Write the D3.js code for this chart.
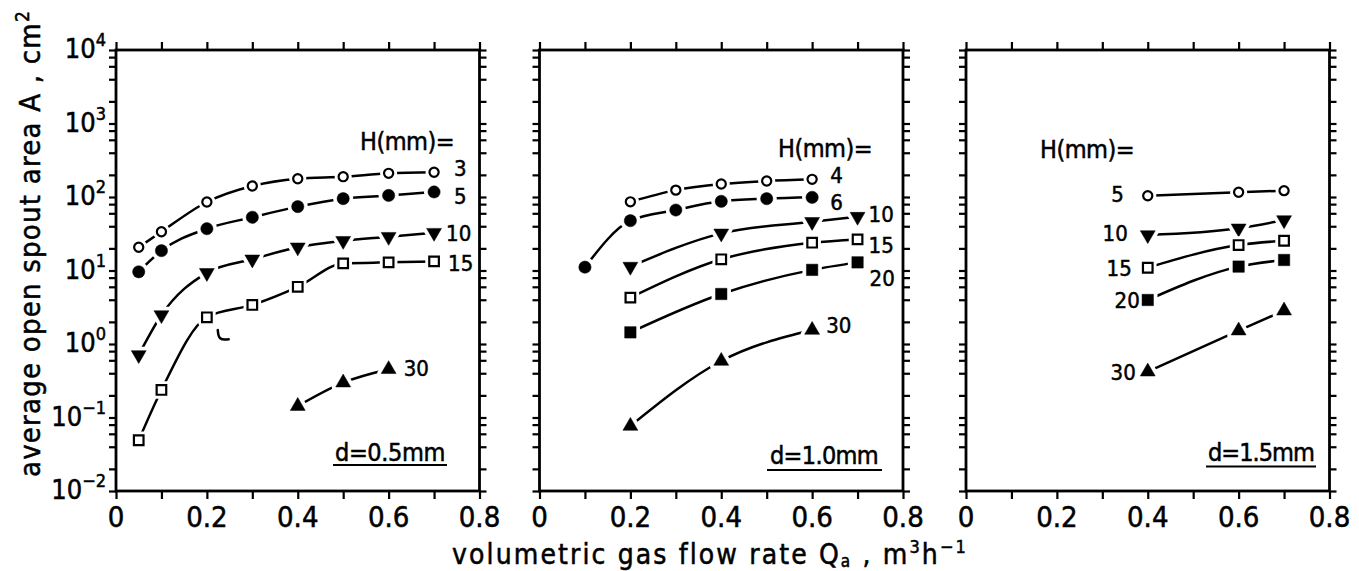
<!DOCTYPE html>
<html><head><meta charset="utf-8">
<script src="https://cdn.jsdelivr.net/npm/d3@7"></script>
<style>
body{margin:0;background:#fff}
svg{display:block}
text{font-family:"Liberation Sans Narrow","Arial Narrow","DejaVu Sans Condensed",sans-serif;fill:#000;stroke:#000;stroke-width:0.5px}
</style>
</head><body>
<svg id="c" width="1359" height="571"></svg>
<script>
// ---------------- DATA ----------------
const xMajorTicks = [0, 0.2, 0.4, 0.6, 0.8];
const xAllTicks = [0, 0.1, 0.2, 0.3, 0.4, 0.5, 0.6, 0.7, 0.8];
const yDecadeExps = [-2, -1, 0, 1, 2, 3, 4];
const yMinorMults = [2, 4, 6, 8];
const panelLabels = ["d=0.5mm", "d=1.0mm", "d=1.5mm"];

// d = 0.5 mm
const q05 = [0.05, 0.1, 0.2, 0.3, 0.4, 0.5, 0.6, 0.7];
const d05_H3  = [20.7, 33.7, 85.5, 141, 177, 189, 210, 217];
const d05_H5  = [9.6, 18.6, 37, 53, 74, 95, 105, 117];
const d05_H10 = [0.71, 2.48, 9.3, 14.2, 20.7, 25.4, 28.8, 32.7];
const d05_H15 = [0.049, 0.237, 2.31, 3.4, 6.0, 12.5, 12.9, 13.3];
const q05_H30 = [0.4, 0.5, 0.6];
const d05_H30 = [0.143, 0.298, 0.453];

// d = 1.0 mm
const q10_H4  = [0.2, 0.3, 0.4, 0.5, 0.6];
const d10_H4  = [86, 124, 150, 165, 174];
const q10_H6  = [0.1, 0.2, 0.3, 0.4, 0.5, 0.6];
const d10_H6  = [11.1, 47.6, 66.5, 87.4, 94.8, 99];
const q10_mid = [0.2, 0.4, 0.6, 0.7];
const d10_H10 = [11.3, 32, 46, 54];
const d10_H15 = [4.27, 14.2, 23.9, 26.5];
const d10_H20 = [1.44, 4.79, 10.2, 12.9];
const q10_H30 = [0.2, 0.4, 0.6];
const d10_H30 = [0.0766, 0.587, 1.55];

// d = 1.5 mm
const q15 = [0.4, 0.6, 0.7];
const d15_H5  = [104, 116, 122];
const d15_H10 = [30.4, 37.5, 48.6];
const d15_H15 = [10.9, 22.2, 25.4];
const d15_H20 = [3.97, 11.3, 13.9];
const d15_H30 = [0.42, 1.52, 2.84];

// stray pen mark in first panel
const strayQ = [0.224, 0.226, 0.248];
const strayA = [1.55, 1.13, 1.16];

// ---------------- LAYOUT ----------------
const svg = d3.select("#c");
const panelLeft = [116, 539.5, 966], panelW = 363.5, plotTop = 50, plotBottom = 491;
const y = d3.scaleLog().domain([1e-2, 1e4]).range([plotBottom, plotTop]);

const zip = (q, v) => q.map((d, i) => ({q: d, v: v[i]}));

const panels = [
  { series: [
      {name: "3",  pts: zip(q05, d05_H3),  sym: "circle", fill: false, lab: "end", dx: 20, dy: -4},
      {name: "5",  pts: zip(q05, d05_H5),  sym: "circle", fill: true,  lab: "end", dx: 20, dy: 4},
      {name: "10", pts: zip(q05, d05_H10), sym: "tdown",  fill: true,  lab: "end", dx: 12, dy: 0},
      {name: "15", pts: zip(q05, d05_H15), sym: "square", fill: false, lab: "end", dx: 14, dy: 2},
      {name: "30", pts: zip(q05_H30, d05_H30), sym: "tup", fill: true, lab: "end", dx: 15, dy: -1}
    ], head: [360, 150], stray: zip(strayQ, strayA) },
  { series: [
      {name: "4",  pts: zip(q10_H4, d10_H4),  sym: "circle", fill: false, lab: "end", dx: 18, dy: -4},
      {name: "6",  pts: zip(q10_H6, d10_H6),  sym: "circle", fill: true,  lab: "end", dx: 18, dy: 5},
      {name: "10", pts: zip(q10_mid, d10_H10), sym: "tdown", fill: true,  lab: "end", dx: 11, dy: -3},
      {name: "15", pts: zip(q10_mid, d10_H15), sym: "square", fill: false, lab: "end", dx: 11, dy: 6},
      {name: "20", pts: zip(q10_mid, d10_H20), sym: "square", fill: true,  lab: "end", dx: 12, dy: 16},
      {name: "30", pts: zip(q10_H30, d10_H30), sym: "tup",   fill: true,  lab: "end", dx: 14, dy: -5}
    ], head: [778, 157] },
  { series: [
      {name: "5",  pts: zip(q15, d15_H5),  sym: "circle", fill: false, lab: "start", dx: -24, dy: -2},
      {name: "10", pts: zip(q15, d15_H10), sym: "tdown",  fill: true,  lab: "start", dx: -20, dy: -2},
      {name: "15", pts: zip(q15, d15_H15), sym: "square", fill: false, lab: "start", dx: -16, dy: 0},
      {name: "20", pts: zip(q15, d15_H20), sym: "square", fill: true,  lab: "start", dx: -8,  dy: 0},
      {name: "30", pts: zip(q15, d15_H30), sym: "tup",    fill: true,  lab: "start", dx: -12, dy: 0}
    ], head: [1040, 158] }
];
const labelBox = [[335, 461, 110], [770, 464, 108], [1208, 461, 106]];
const underline = [[333, 447, 465], [767, 882, 470], [1206, 1316, 466.5]];

function fit(sel, w) {
  sel.style("letter-spacing", "0px");
  const n = sel.text().length;
  const len = sel.node().getComputedTextLength();
  sel.style("letter-spacing", ((w - len) / n) + "px");
}

function symPath(s) {
  if (s.sym === "circle") return d3.symbol(d3.symbolCircle, s.fill ? 118 : 66)();
  if (s.sym === "square") return d3.symbol(d3.symbolSquare, s.fill ? 130 : 92)();
  return d3.symbol(d3.symbolTriangle, 96)();
}

panels.forEach((p, i) => {
  const x = d3.scaleLinear().domain([0, 0.8]).range([panelLeft[i], panelLeft[i] + panelW]);
  const g = svg.append("g");

  const yTickVals = [];
  yDecadeExps.forEach(e => {
    yTickVals.push(Math.pow(10, e));
    if (e < 4) yMinorMults.forEach(m => yTickVals.push(m * Math.pow(10, e)));
  });
  const axStyle = a => { a.select(".domain").remove(); a.selectAll("line").attr("stroke", "#000").attr("stroke-width", 2.2); a.selectAll("text").remove(); };
  g.append("g").attr("transform", `translate(0,${plotBottom})`).call(d3.axisBottom(x).tickValues(xAllTicks).tickSize(8)).call(axStyle);
  g.append("g").attr("transform", `translate(0,${plotTop})`).call(d3.axisTop(x).tickValues(xAllTicks).tickSize(8)).call(axStyle);
  g.append("g").attr("transform", `translate(${x(0)},0)`).call(d3.axisLeft(y).tickValues(yTickVals).tickSize(7)).call(axStyle);
  g.append("g").attr("transform", `translate(${x(0.8)},0)`).call(d3.axisRight(y).tickValues(yTickVals).tickSize(7)).call(axStyle);

  g.append("rect").attr("x", x(0)).attr("y", plotTop).attr("width", x(0.8) - x(0)).attr("height", plotBottom - plotTop)
    .attr("fill", "none").attr("stroke", "#000").attr("stroke-width", 2.8);

  g.selectAll(".xl").data(xMajorTicks).join("text")
    .attr("x", d => x(d)).attr("y", 527).attr("text-anchor", "middle")
    .style("font-size", "29px").text(d => d === 0 ? "0" : d3.format(".1f")(d));

  const line = d3.line().x(d => x(d.q)).y(d => y(d.v)).curve(d3.curveMonotoneX);
  p.series.forEach(s => {
    g.append("path").attr("d", line(s.pts)).attr("fill", "none").attr("stroke", "#000").attr("stroke-width", 2.5);
  });
  if (p.stray) {
    g.append("path").attr("d", d3.line().x(d => x(d.q)).y(d => y(d.v)).curve(d3.curveBasis)(p.stray))
      .attr("fill", "none").attr("stroke", "#000").attr("stroke-width", 2.5).attr("stroke-linecap", "round");
  }
  p.series.forEach(s => {
    const d = symPath(s);
    const tr = pt => `translate(${x(pt.q)},${y(pt.v)})` + (s.sym === "tdown" ? " rotate(180)" : "");
    g.selectAll(null).data(s.pts).join("path").attr("d", d).attr("transform", tr)
      .attr("fill", "#fff").attr("stroke", "#fff").attr("stroke-width", 8).attr("stroke-linejoin", "round");
    g.selectAll(null).data(s.pts).join("path").attr("d", d).attr("transform", tr)
      .attr("fill", s.fill ? "#000" : "#fff").attr("stroke", "#000").attr("stroke-width", s.fill ? 0.5 : 2.2);
    const pt = s.lab === "end" ? s.pts[s.pts.length - 1] : s.pts[0];
    g.append("text").attr("x", x(pt.q) + s.dx).attr("y", y(pt.v) + s.dy)
      .attr("dy", "0.36em").attr("text-anchor", s.lab === "end" ? "start" : "end")
      .style("font-size", "22px").text(s.name);
  });

  const h = g.append("text").attr("x", p.head[0]).attr("y", p.head[1]).style("font-size", "25px").text("H(mm)=");
  fit(h, 94);

  const lb = g.append("text").attr("x", labelBox[i][0]).attr("y", labelBox[i][1]).style("font-size", "25px").text(panelLabels[i]);
  fit(lb, labelBox[i][2]);
  g.append("line").attr("x1", underline[i][0]).attr("x2", underline[i][1]).attr("y1", underline[i][2]).attr("y2", underline[i][2])
    .attr("stroke", "#000").attr("stroke-width", 2.2);

  if (i === 0) {
    yDecadeExps.forEach(e => {
      const t = g.append("text").attr("x", 106).attr("y", y(Math.pow(10, e)) + 8).attr("text-anchor", "end").style("font-size", "27px");
      t.append("tspan").text("10");
      t.append("tspan").attr("dy", -12).style("font-size", "18px").text(e < 0 ? "\u2212" + (-e) : String(e));
    });
  }
});

const yt = svg.append("text").attr("transform", "translate(40,477) rotate(-90)").style("font-size", "29px");
yt.append("tspan").text("average open spout area A , cm");
yt.append("tspan").attr("dy", -11).style("font-size", "19px").text("2");
fit(yt, 467);

const xt = svg.append("text").attr("x", 452).attr("y", 564).style("font-size", "28px");
xt.append("tspan").text("volumetric gas flow rate Q");
xt.append("tspan").attr("dy", 3).style("font-size", "17px").text("a");
xt.append("tspan").attr("dy", -3).text(" , m");
xt.append("tspan").attr("dy", -11).style("font-size", "18px").text("3");
xt.append("tspan").attr("dy", 11).text("h");
xt.append("tspan").attr("dy", -11).style("font-size", "18px").text("\u22121");
fit(xt, 516);
</script>
</body></html>
